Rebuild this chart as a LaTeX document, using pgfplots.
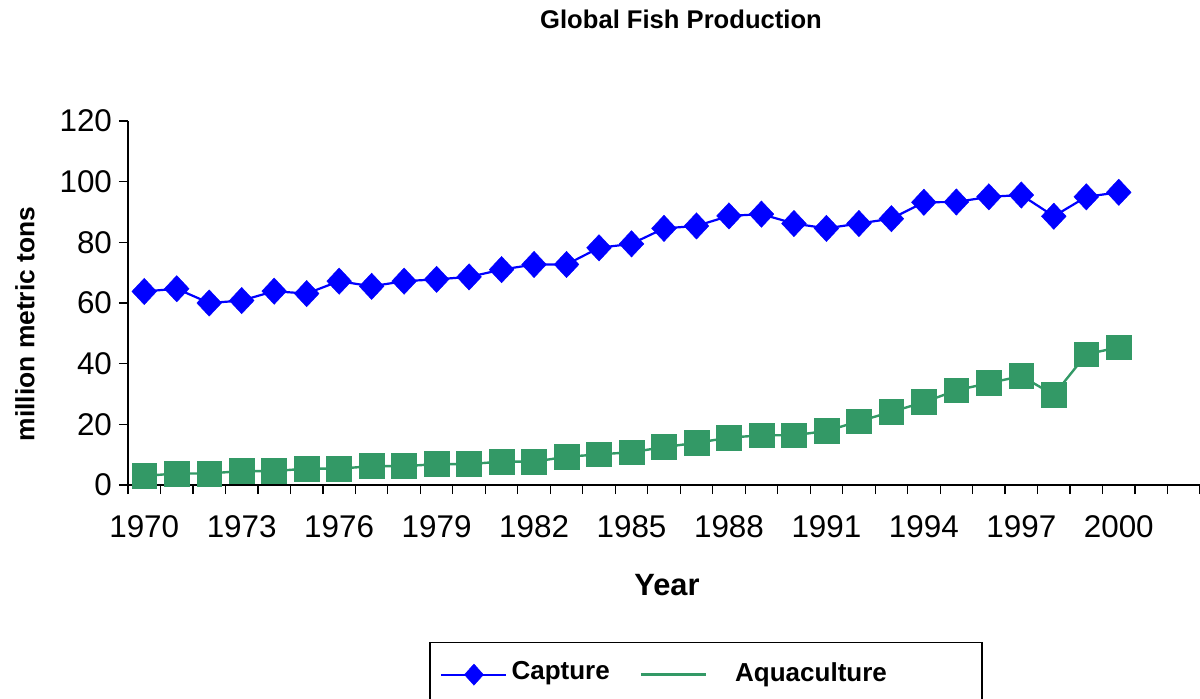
\documentclass[border=0pt]{standalone}
\usepackage{pgfplots}
\pgfplotsset{compat=1.18}
\usepackage{fontspec}
\setmainfont{Liberation Sans}
\definecolor{capblue}{RGB}{0,0,255}
\definecolor{aqgreen}{RGB}{51,153,102}
\pgfplotstableread{
x cap aq
0 63.8 3.0
1 64.7 3.8
2 60.0 3.8
3 60.8 4.6
4 63.9 4.6
5 63.1 5.4
6 67.2 5.4
7 65.5 6.2
8 67.2 6.2
9 67.8 6.9
10 68.6 6.9
11 71.0 7.7
12 72.7 7.7
13 72.7 9.3
14 78.2 10.1
15 79.5 10.8
16 84.6 12.5
17 85.4 13.9
18 88.7 15.6
19 89.3 16.4
20 86.2 16.4
21 84.6 17.8
22 86.2 21.0
23 87.8 24.1
24 93.2 27.3
25 93.3 31.2
26 95.0 33.6
27 95.6 35.9
28 88.6 29.7
29 95.0 43.1
30 96.5 45.4
}\fishdata
\begin{document}
\begin{tikzpicture}
\begin{axis}[
  at={(64pt,106.5pt)}, anchor=south west,
  scale only axis, width=536pt, height=182pt,
  xmin=-0.5, xmax=32.5, ymin=0, ymax=120,
  axis x line=bottom, axis y line=left,
  axis line style={-, black, line width=0.6pt},
  ytick={0,20,...,120},
  xtick={-0.5,0.5,...,32.5}, xticklabels={},
  extra x ticks={0,3,...,30},
  extra x tick labels={1970,1973,1976,1979,1982,1985,1988,1991,1994,1997,2000},
  extra x tick style={tick style={draw=none}, tick label style={yshift=-7.5pt}},
  tick align=outside, major tick length=4.5pt,
  tick style={black, line width=0.6pt},
  tick label style={font=\fontsize{15.7}{18}\selectfont},
  /pgf/number format/assume math mode=true,
  clip=false,
  legend columns=2,
  legend style={draw=none, fill=none, at={(axis description cs:0.2854,-0.521)}, anchor=west,
    font=\bfseries\fontsize{13}{15}\selectfont,
    /tikz/every even column/.append style={column sep=13pt}},
  legend image code/.code={\draw[mark repeat=2,mark phase=2] plot coordinates {(0pt,0pt)(16.25pt,0pt)(32.5pt,0pt)};},
]
\addplot[forget plot, capblue, line width=1.1pt, mark=diamond*, mark size=6.6pt,
  mark options={xscale=1.25, solid, fill=capblue, draw=capblue, line width=0.2pt}]
  table[x=x, y=cap] {\fishdata};
\addplot[forget plot, aqgreen, line width=1.2pt, mark=square*, mark size=6.2pt,
  mark options={solid, fill=aqgreen, draw=aqgreen, line width=0.3pt}]
  table[x=x, y=aq] {\fishdata};
\addlegendimage{capblue, line width=1.1pt, mark=diamond*, mark size=5.3pt,
  mark options={xscale=1.2, solid, fill=capblue, draw=capblue, line width=0.2pt}}
\addlegendentry{\raisebox{3pt}{Capture}}
\addlegendimage{aqgreen, line width=1.2pt}
\addlegendentry{\hspace{12pt}\raisebox{1pt}{Aquaculture}}
\end{axis}
\draw[black, line width=0.6pt] (215pt,-3pt) |- (491pt,27.6pt) -- (491pt,-3pt);
\node[font=\bfseries\fontsize{12.8}{15}\selectfont] at (340.5pt,339.3pt) {Global Fish Production};
\node[rotate=90, font=\bfseries\fontsize{13.2}{15}\selectfont] at (12.5pt,187pt) {million metric tons};
\node[font=\bfseries\fontsize{15.4}{18}\selectfont] at (333.5pt,56.5pt) {Year};
\pgfresetboundingbox
\useasboundingbox (0,0) rectangle (600pt,349pt);
\end{tikzpicture}
\end{document}
